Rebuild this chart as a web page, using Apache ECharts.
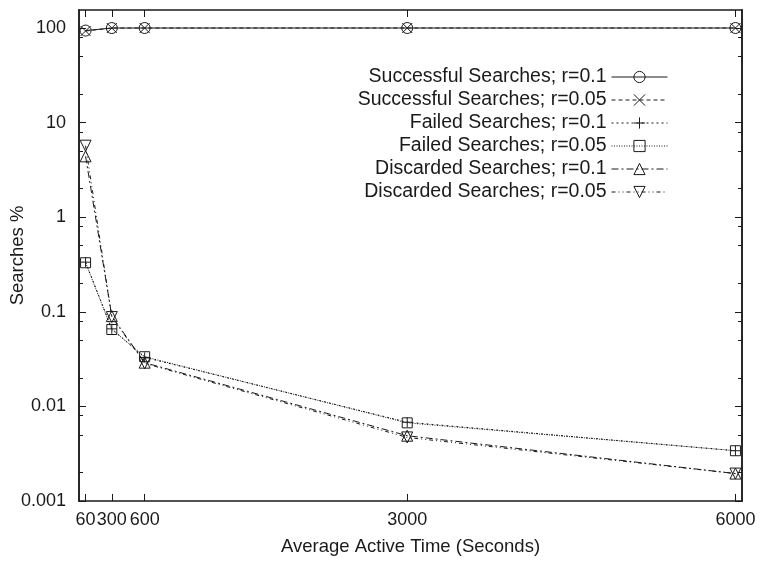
<!DOCTYPE html>
<html>
<head>
<meta charset="utf-8">
<script src="https://cdn.jsdelivr.net/npm/echarts@6/dist/echarts.min.js"></script>
<style>html,body{margin:0;padding:0;background:#fff;}#c{width:760px;height:563px;}</style>
</head>
<body>
<div id="c"></div>
<script>
// ---- data ----
var xValues = [60, 300, 600, 3000, 6000];
var xTickValues = [60, 300, 600, 3000, 6000];
var yTickValues = [0.001, 0.01, 0.1, 1, 10, 100];
var yTickLabels = ['0.001', '0.01', '0.1', '1', '10', '100'];
var yMinorTickValues = [0.002, 0.005, 0.008, 0.02, 0.05, 0.08, 0.2, 0.5, 0.8, 2, 5, 8, 20, 50, 80];

var seriesNames = [
  'Successful Searches; r=0.1',
  'Successful Searches; r=0.05',
  'Failed Searches; r=0.1',
  'Failed Searches; r=0.05',
  'Discarded Searches; r=0.1',
  'Discarded Searches; r=0.05'
];
var successful01 = [94, 99.9, 99.97, 99.99, 99.99];
var successful005 = [93, 99.9, 99.97, 99.99, 99.99];
var failed01 = [0.335, 0.066, 0.033, 0.0068, 0.0034];
var failed005 = [0.33, 0.065, 0.0335, 0.0067, 0.0034];
var discarded01 = [4.4, 0.09, 0.029, 0.0049, 0.00195];
var discarded005 = [5.7, 0.088, 0.0285, 0.0047, 0.00195];

var allValues = [successful01, successful005, failed01, failed005, discarded01, discarded005];

// ---- styling ----
var FONT = 'Liberation Sans';
var INK = '#1a1a1a';
var symbols = [
  'circle',
  'path://M0,0L10,10M10,0L0,10',
  'path://M5,0L5,10M0,5L10,5',
  'rect',
  'triangle',
  'triangle'
];
var symbolRot = [0, 0, 0, 0, 0, 180];
var symbolSizes = [11, 10, 10, 10, 11, 11];
var dashes = ['solid', [4, 3], [2, 3], [1, 1.5], [7, 3, 2, 3], [4, 3, 1, 3, 1, 3]];

var series = allValues.map(function (vals, i) {
  return {
    name: seriesNames[i],
    type: 'line',
    data: vals.map(function (v, j) { return [xValues[j], v]; }),
    symbol: symbols[i],
    symbolSize: symbolSizes[i],
    symbolRotate: symbolRot[i],
    showAllSymbol: true,
    lineStyle: { color: INK, width: 1, type: dashes[i] },
    itemStyle: { color: 'transparent', borderColor: INK, borderWidth: 1 },
    emphasis: { disabled: true },
    animation: false,
    z: 3
  };
});

function xAxisDef(pos, labels) {
  return {
    type: 'value', position: pos, min: 0, max: 6060,
    name: labels ? 'Average Active Time (Seconds)' : '',
    nameLocation: 'middle', nameGap: 36, nameMoveOverlap: false,
    nameTextStyle: { fontFamily: FONT, fontSize: 18.5, color: INK },
    axisLine: { show: true, lineStyle: { color: INK, width: 1.5 } },
    axisTick: { show: true, inside: true, length: 7, customValues: xTickValues, lineStyle: { color: INK, width: 1 } },
    axisLabel: { show: labels, customValues: xTickValues, margin: 10, fontFamily: FONT, fontSize: 18, color: INK,
      formatter: function (v) { return String(Math.round(v)); } },
    splitLine: { show: false }
  };
}
function yAxisDef(pos, minor, labels) {
  return {
    type: 'log', logBase: 10, position: pos, min: 0.001, max: 155,
    name: labels ? 'Searches %' : '',
    nameLocation: 'middle', nameGap: 52, nameRotate: 90, nameMoveOverlap: false,
    nameTextStyle: { fontFamily: FONT, fontSize: 18.5, color: INK },
    axisLine: { show: true, lineStyle: { color: INK, width: 1.5 } },
    axisTick: { show: true, inside: true, length: minor ? 4 : 7,
      customValues: minor ? yMinorTickValues : yTickValues, lineStyle: { color: INK, width: 1 } },
    axisLabel: { show: labels, customValues: yTickValues, margin: 13, fontFamily: FONT, fontSize: 18, color: INK,
      formatter: function (v) {
        for (var k = 0; k < yTickValues.length; k++) {
          if (Math.abs(Math.log10(v) - Math.log10(yTickValues[k])) < 1e-6) return yTickLabels[k];
        }
        return '';
      } },
    splitLine: { show: false }
  };
}

var chart = echarts.init(document.getElementById('c'), null, { renderer: 'canvas' });
chart.setOption({
  animation: false,
  backgroundColor: '#fff',
  grid: { left: 79, right: 18, top: 10, bottom: 62, containLabel: false, outerBoundsMode: 'none' },
  xAxis: [xAxisDef('bottom', true), xAxisDef('top', false)],
  yAxis: [yAxisDef('left', false, true), yAxisDef('left', true, false),
          yAxisDef('right', false, false), yAxisDef('right', true, false)],
  legend: {
    orient: 'vertical', right: 87, top: 62, align: 'right',
    itemWidth: 56, itemHeight: 14, itemGap: 3,
    textStyle: { fontFamily: FONT, fontSize: 19.5, color: INK },
    itemStyle: { borderWidth: 1, color: 'transparent', borderColor: INK },
    lineStyle: { width: 1, color: INK },
    selectedMode: false,
    data: seriesNames
  },
  series: series
});
</script>
</body>
</html>
